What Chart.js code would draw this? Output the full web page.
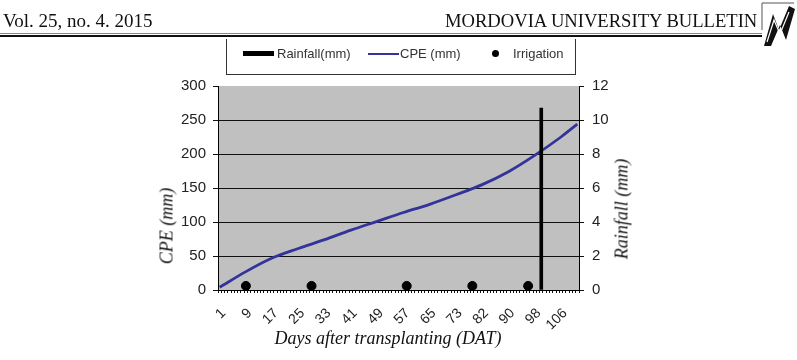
<!DOCTYPE html>
<html>
<head>
<meta charset="utf-8">
<script src="https://cdn.jsdelivr.net/npm/chart.js@4"></script>
<style>
  body { margin: 0; background: #fff; }
  #wrap { position: relative; width: 797px; height: 360px; overflow: hidden; background: #fff; }
  #c { position: absolute; left: 0; top: 0; }
  .serif { font-family: 'Liberation Serif', 'Times New Roman', serif; color: #111; position: absolute; white-space: nowrap; }
  .head { line-height: 18px; top: 12px; }
  .vtitle { font-size: 18px; font-style: italic; transform: translate(-50%, -50%) rotate(-90deg); }
  .htitle { font-size: 18px; font-style: italic; transform: translate(-50%, -50%); }
  #legend { position: absolute; left: 226px; top: 39px; width: 348px; height: 35px;
            border-left: 1px solid #333; border-right: 1px solid #333; border-bottom: 1px solid #333; }
  #legend span { position: absolute; font-family: 'Liberation Sans', Arial, sans-serif; font-size: 13px; color: #333; top: 7px; }
  #legend i { position: absolute; display: block; }
</style>
</head>
<body>
<div id="wrap">
  <canvas id="c" width="797" height="360"></canvas>

  <!-- journal header -->
  <div class="serif head" style="left:3px;font-size:19px;">Vol. 25, no. 4. 2015</div>
  <div class="serif head" style="left:445px;font-size:18.6px;">MORDOVIA UNIVERSITY BULLETIN</div>
  <div style="position:absolute;left:0;top:33px;width:762px;height:1px;background:#888;"></div>
  <div style="position:absolute;left:0;top:35px;width:762px;height:2px;background:#111;"></div>
  <svg style="position:absolute;left:760px;top:0;" width="37" height="48">
    <polyline points="2,30 2,3 34,3" fill="none" stroke="#555" stroke-width="1"/>
    <polygon points="4,46 13,14 19,30 29,6 35,9 26,40 20,25 11,46" fill="#111"/>
    <polyline points="7,42 14,20 20,34 29,12" fill="none" stroke="#fff" stroke-width="1.2"/>
  </svg>

  <!-- legend -->
  <div id="legend">
    <i style="left:16px;top:12px;width:31px;height:5px;background:#000;"></i>
    <span style="left:50px;">Rainfall(mm)</span>
    <i style="left:141px;top:14px;width:31px;height:1.5px;background:#333399;"></i>
    <span style="left:173px;">CPE (mm)</span>
    <i style="left:265px;top:11px;width:7px;height:7px;border-radius:50%;background:#000;"></i>
    <span style="left:286px;">Irrigation</span>
  </div>

  <!-- axis titles -->
  <div class="serif vtitle" style="left:167px;top:226px;">CPE (mm)</div>
  <div class="serif vtitle" style="left:622px;top:209px;">Rainfall (mm)</div>
  <div class="serif htitle" style="left:388px;top:338px;">Days after transplanting (DAT)</div>
</div>

<script>
// days after transplanting (one day missing between 73 and 82 in the source)
const dayLabels = [
  1, 2, 3, 4, 5, 6, 7, 8, 9, 10, 11, 12, 13, 14, 15, 16, 17, 18, 19, 20,
  21, 22, 23, 24, 25, 26, 27, 28, 29, 30, 31, 32, 33, 34, 35, 36, 37, 38, 39, 40,
  41, 42, 43, 44, 45, 46, 47, 48, 49, 50, 51, 52, 53, 54, 55, 56, 57, 58, 59, 60,
  61, 62, 63, 64, 65, 66, 67, 68, 69, 70, 71, 72, 73, 75, 76, 77, 78, 79, 80, 81,
  82, 83, 84, 85, 86, 87, 88, 89, 90, 91, 92, 93, 94, 95, 96, 97, 98, 99, 100, 101,
  102, 103, 104, 105, 106, 107, 108, 109, 110, 111
];

// cumulative pan evaporation (mm), read at the labelled days
const cpeDays   = [1, 9, 17, 25, 33, 41, 49, 57, 65, 73, 82, 90, 98, 106, 111];
const cpeValues = [4, 27, 47, 61, 74, 88, 101, 114, 126, 140, 155, 174, 198, 225, 244];

// rainfall events (mm)
const rainDays   = [100];
const rainValues = [10.7];

// irrigation events, drawn as dots just above the axis
const irrigationDays  = [9, 29, 58, 79, 96];
const irrigationMarks = [6, 6, 6, 6, 6];

const labelStep = 8;
const tickFont = { family: "'Liberation Sans', Arial, sans-serif", size: 15 };

const plotBackground = {
  id: 'plotBackground',
  beforeDraw(chart) {
    const { ctx, chartArea: a } = chart;
    ctx.save();
    ctx.fillStyle = '#c0c0c0';
    ctx.fillRect(a.left, a.top, a.right - a.left, a.bottom - a.top);
    ctx.restore();
  }
};

const pairs = (xs, ys) => xs.map((d, i) => ({ x: String(d), y: ys[i] }));

new Chart(document.getElementById('c'), {
  data: {
    labels: dayLabels.map(String),
    datasets: [
      {
        type: 'bar',
        label: 'Rainfall(mm)',
        data: pairs(rainDays, rainValues),
        yAxisID: 'yR',
        backgroundColor: '#000',
        barThickness: 3,
        order: 1
      },
      {
        type: 'line',
        label: 'CPE (mm)',
        data: pairs(cpeDays, cpeValues),
        yAxisID: 'y',
        borderColor: '#333399',
        borderWidth: 2.8,
        pointRadius: 0,
        cubicInterpolationMode: 'monotone',
        order: 2
      },
      {
        type: 'line',
        label: 'Irrigation',
        data: pairs(irrigationDays, irrigationMarks),
        yAxisID: 'y',
        showLine: false,
        pointRadius: 4.5,
        pointBackgroundColor: '#000',
        pointBorderColor: '#000',
        order: 0
      }
    ]
  },
  options: {
    responsive: false,
    animation: false,
    layout: { padding: { top: 86, left: 0, right: 0, bottom: 0 } },
    plugins: { legend: { display: false }, tooltip: { enabled: false } },
    scales: {
      x: {
        type: 'category',
        offset: true,
        afterFit: s => { s.height = 70; },
        border: { color: '#000', width: 1 },
        grid: { drawOnChartArea: false, tickLength: 3, tickColor: '#111', offset: true },
        ticks: {
          autoSkip: false,
          maxRotation: 45,
          minRotation: 45,
          padding: 12,
          labelOffset: 4,
          color: '#222',
          font: { family: tickFont.family, size: 14 },
          callback: (v, i) => (i % labelStep === 0 ? String(dayLabels[i]) : '')
        }
      },
      y: {
        position: 'left',
        min: 0,
        max: 300,
        afterFit: s => { s.width = 218; },
        border: { color: '#000', width: 1 },
        grid: {
          color: c => (c.tick.value === 300 || c.tick.value === 0 ? 'rgba(0,0,0,0)' : '#111'),
          tickColor: '#111',
          tickLength: 5
        },
        ticks: { stepSize: 50, padding: 7, color: '#222', font: tickFont }
      },
      yR: {
        position: 'right',
        min: 0,
        max: 12,
        afterFit: s => { s.width = 218; },
        border: { color: '#000', width: 1 },
        grid: { drawOnChartArea: false, tickColor: '#111', tickLength: 5 },
        ticks: { stepSize: 2, padding: 8, color: '#222', font: tickFont }
      }
    }
  },
  plugins: [plotBackground]
});
</script>
</body>
</html>
